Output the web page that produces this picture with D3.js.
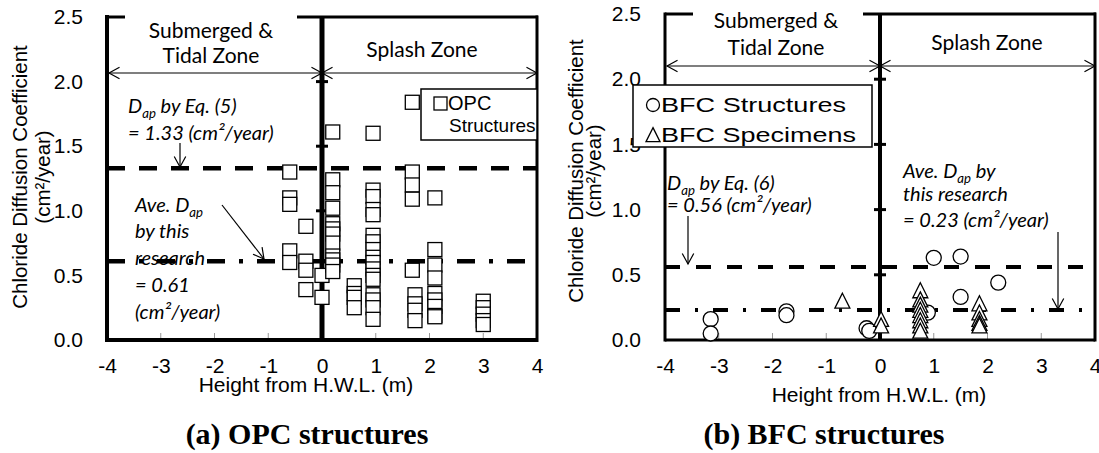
<!DOCTYPE html>
<html>
<head>
<meta charset="utf-8">
<script src="https://cdn.jsdelivr.net/npm/d3@7"></script>
<style>
  body { margin: 0; background: #fff; }
  svg { display: block; }
</style>
</head>
<body>
<div id="main"></div>
<script>
// axis ticks
const heightTicks = [-4, -3, -2, -1, 0, 1, 2, 3, 4]
const coefTicks = [0, 0.5, 1.0, 1.5, 2.0, 2.5]

// (a) OPC structures : [height from H.W.L. (m), D_ap (cm2/year)]
const opcStructures = [
  [-0.6, 1.30], [-0.6, 1.10], [-0.6, 1.05], [-0.6, 0.69], [-0.6, 0.60],
  [-0.3, 0.88], [-0.3, 0.61], [-0.3, 0.54], [-0.3, 0.39],
  [0.0, 0.50], [0.0, 0.33],
  [0.2, 1.61], [0.2, 1.24], [0.2, 1.14], [0.2, 1.02], [0.2, 0.90], [0.2, 0.86],
  [0.2, 0.82], [0.2, 0.75], [0.2, 0.65], [0.2, 0.62], [0.2, 0.58], [0.2, 0.53],
  [0.6, 0.42], [0.6, 0.36], [0.6, 0.33], [0.6, 0.25],
  [0.95, 1.60], [0.95, 1.16], [0.95, 1.11], [0.95, 1.01], [0.95, 0.97], [0.95, 0.81],
  [0.95, 0.76], [0.95, 0.70], [0.95, 0.64], [0.95, 0.60], [0.95, 0.55], [0.95, 0.50],
  [0.95, 0.47], [0.95, 0.35], [0.95, 0.31], [0.95, 0.25], [0.95, 0.16],
  [1.68, 1.84], [1.68, 1.30], [1.68, 1.20], [1.68, 1.09], [1.68, 0.54],
  [1.73, 0.35], [1.73, 0.28], [1.73, 0.23], [1.73, 0.15],
  [2.1, 1.10], [2.1, 0.70], [2.1, 0.58], [2.1, 0.48], [2.1, 0.36], [2.1, 0.31],
  [2.1, 0.26], [2.1, 0.19], [2.1, 0.18],
  [3.0, 0.30], [3.0, 0.25], [3.0, 0.20], [3.0, 0.15], [3.0, 0.12]
]

// (b) BFC structures and specimens
const bfcStructures = [
  [-3.15, 0.16], [-3.15, 0.05], [-1.74, 0.22], [-1.74, 0.19],
  [-0.25, 0.09], [-0.2, 0.07], [0.89, 0.21], [1.0, 0.63],
  [1.5, 0.64], [1.5, 0.33], [2.2, 0.44]
]
const bfcSpecimens = [
  [-0.7, 0.29], [0.02, 0.15], [0.02, 0.10],
  [0.75, 0.37], [0.75, 0.30], [0.75, 0.26], [0.75, 0.22], [0.75, 0.18],
  [0.75, 0.14], [0.75, 0.10], [0.75, 0.06],
  [1.85, 0.27], [1.85, 0.20], [1.85, 0.15], [1.85, 0.12], [1.85, 0.10]
]

// reference lines: D_ap by equation, average D_ap of this research
const dapEq = [1.33, 0.56]
const dapAve = [0.61, 0.23]

const sansFont = "'Liberation Sans', Arial, sans-serif"
const noteFont = "Lato, 'Open Sans', sans-serif"

let svg = d3.select('#main').append('svg')
  .attr('width', 1099)
  .attr('height', 453)

function arrowLine(g, x1, y1, x2, y2, headStart, headEnd, w) {
  g.append('line')
    .attr('x1', x1).attr('y1', y1).attr('x2', x2).attr('y2', y2)
    .attr('stroke', 'black').attr('stroke-width', w || 1.2)
  let head = (px, py, ang) => {
    let L = 12, a = 0.5
    let p = d3.path()
    p.moveTo(px + L * Math.cos(ang + a), py + L * Math.sin(ang + a))
    p.lineTo(px, py)
    p.lineTo(px + L * Math.cos(ang - a), py + L * Math.sin(ang - a))
    g.append('path').attr('d', p.toString())
      .attr('fill', 'none').attr('stroke', 'black').attr('stroke-width', w || 1.2)
  }
  let ang = Math.atan2(y2 - y1, x2 - x1)
  if (headEnd) head(x2, y2, ang + Math.PI)
  if (headStart) head(x1, y1, ang)
}

// text lines, "_ap" parts drawn as subscript
function note(g, x, y, parts, size, italic) {
  let t = g.append('text')
    .attr('x', x).attr('y', y)
    .attr('font-family', noteFont)
    .attr('font-size', size)
    .attr('font-style', italic ? 'italic' : 'normal')
  let shifted = false
  parts.forEach(p => {
    if (p.startsWith('_')) {
      t.append('tspan').attr('font-size', size * 0.66).attr('dy', 5).text(p.slice(1))
      shifted = true
    } else {
      let s = t.append('tspan').text(p)
      if (shifted) { s.attr('dy', -5); shifted = false }
    }
  })
  return t
}

function drawPanel(cfg) {
  let g = svg.append('g').attr('id', 'panel-' + cfg.id)
  let x = d3.scaleLinear().domain([-4, 4]).range([cfg.x0, cfg.x1])
  let y = d3.scaleLinear().domain([0, 2.5]).range([cfg.y1, cfg.y0])

  // x tick marks (light grey, inside)
  g.selectAll('.xtick')
    .data(heightTicks.slice(1, -1))
    .join('line')
    .attr('x1', d => x(d)).attr('x2', d => x(d))
    .attr('y1', cfg.y1).attr('y2', cfg.y1 - 7)
    .attr('stroke', '#999').attr('stroke-width', 1)

  // reference lines
  g.append('line')
    .attr('x1', x(-4)).attr('x2', x(4))
    .attr('y1', y(dapEq[cfg.k])).attr('y2', y(dapEq[cfg.k]))
    .attr('stroke', 'black').attr('stroke-width', cfg.refW)
    .attr('stroke-dasharray', cfg.dash)
  g.append('line')
    .attr('x1', x(-4)).attr('x2', x(4))
    .attr('y1', y(dapAve[cfg.k])).attr('y2', y(dapAve[cfg.k]))
    .attr('stroke', 'black').attr('stroke-width', cfg.refW)
    .attr('stroke-dasharray', cfg.dashDot)

  // H.W.L. line and its y ticks
  g.append('line')
    .attr('x1', x(0)).attr('x2', x(0))
    .attr('y1', cfg.y1).attr('y2', cfg.y0)
    .attr('stroke', 'black').attr('stroke-width', cfg.zeroW)
  g.selectAll('.ytick')
    .data(coefTicks.slice(1, -1))
    .join('line')
    .attr('x1', x(0) - 6).attr('x2', x(0) + 6)
    .attr('y1', d => y(d)).attr('y2', d => y(d))
    .attr('stroke', 'black').attr('stroke-width', 3)

  // frame
  g.append('line').attr('x1', cfg.x0).attr('x2', cfg.x0)
    .attr('y1', cfg.y1 + cfg.frameW / 2).attr('y2', cfg.y0 - cfg.frameW / 2)
    .attr('stroke', 'black').attr('stroke-width', cfg.frameW)
  g.append('line').attr('x1', cfg.x0).attr('x2', cfg.x1)
    .attr('y1', cfg.y1).attr('y2', cfg.y1)
    .attr('stroke', 'black').attr('stroke-width', cfg.frameW)
  g.append('line').attr('x1', cfg.x1).attr('x2', cfg.x1)
    .attr('y1', cfg.y1 + cfg.frameW / 2).attr('y2', cfg.y0 - 1.5)
    .attr('stroke', 'black').attr('stroke-width', 3)
  cfg.topSegs.forEach(s => {
    g.append('line').attr('x1', s[0]).attr('x2', s[1])
      .attr('y1', cfg.y0).attr('y2', cfg.y0)
      .attr('stroke', 'black').attr('stroke-width', 3)
  })

  // zone arrows
  arrowLine(g, x(-4) + 2, cfg.zoneY, x(0), cfg.zoneY, true, true)
  arrowLine(g, x(0), cfg.zoneY, x(4), cfg.zoneY, true, true)

  // axes labels
  let yAxis = g.append('g')
    .attr('transform', `translate(${cfg.x0},0)`)
    .call(d3.axisLeft(y).tickValues(coefTicks).tickFormat(d3.format('.1f')).tickSize(0).tickPadding(24))
  let xAxis = g.append('g')
    .attr('transform', `translate(0,${cfg.y1})`)
    .call(d3.axisBottom(x).tickValues(heightTicks).tickFormat(d => String(d)).tickSize(0).tickPadding(18))
  ;[yAxis, xAxis].forEach(a => {
    a.select('.domain').remove()
    a.selectAll('text').attr('font-family', sansFont).attr('font-size', 21).attr('fill', 'black')
  })

  g.append('text')
    .attr('x', cfg.xTitleX).attr('y', cfg.xTitleY)
    .attr('text-anchor', 'middle')
    .attr('font-family', sansFont).attr('font-size', 21)
    .text('Height from H.W.L. (m)')
  g.append('text')
    .attr('transform', `translate(${cfg.yTitleX[0]},${cfg.yTitleC}) rotate(-90)`)
    .attr('text-anchor', 'middle')
    .attr('font-family', sansFont).attr('font-size', 20.5)
    .text('Chloride Diffusion Coefficient')
  g.append('text')
    .attr('transform', `translate(${cfg.yTitleX[1]},${cfg.yTitleC}) rotate(-90)`)
    .attr('text-anchor', 'middle')
    .attr('font-family', sansFont).attr('font-size', 20.5)
    .text('(cm²/year)')

  // caption
  g.append('text')
    .attr('x', cfg.capX).attr('y', 444)
    .attr('text-anchor', 'middle')
    .attr('font-family', "'Liberation Serif', 'Times New Roman', serif")
    .attr('font-weight', 'bold').attr('font-size', 30)
    .text(cfg.caption)

  // zone labels
  g.append('text').attr('x', cfg.subX).attr('y', cfg.subY[0]).attr('text-anchor', 'middle')
    .attr('font-family', noteFont).attr('font-size', 21).text('Submerged &')
  g.append('text').attr('x', cfg.subX).attr('y', cfg.subY[1]).attr('text-anchor', 'middle')
    .attr('font-family', noteFont).attr('font-size', 21).text('Tidal Zone')
  g.append('text').attr('x', cfg.splashX).attr('y', cfg.splashY).attr('text-anchor', 'middle')
    .attr('font-family', noteFont).attr('font-size', 21).text('Splash Zone')

  return { g: g, x: x, y: y }
}

function squares(g, x, y, data, s) {
  g.selectAll(null).data(data).join('rect')
    .attr('x', d => x(d[0]) - s / 2).attr('y', d => y(d[1]) - s / 2)
    .attr('width', s).attr('height', s)
    .attr('fill', 'white').attr('stroke', 'black').attr('stroke-width', 1.3)
}
function circles(g, x, y, data, r) {
  g.selectAll(null).data(data).join('circle')
    .attr('cx', d => x(d[0])).attr('cy', d => y(d[1])).attr('r', r)
    .attr('fill', 'white').attr('stroke', 'black').attr('stroke-width', 1.3)
}
function triangles(g, x, y, data, s) {
  g.selectAll(null).data(data).join('path')
    .attr('d', d => {
      let cx = x(d[0]), cy = y(d[1])
      return `M${cx},${cy - s * 0.6}L${cx + s / 2},${cy + s * 0.4}L${cx - s / 2},${cy + s * 0.4}Z`
    })
    .attr('fill', 'white').attr('stroke', 'black').attr('stroke-width', 1.3)
}

// ---------- (a) OPC structures ----------
let a = drawPanel({
  id: 'a', k: 0, x0: 107, x1: 537, y0: 17, y1: 340,
  frameW: 4, zeroW: 5, refW: 4.5,
  dash: '18,14', dashDot: '18,14,4,14',
  topSegs: [[107, 125], [297, 538]],
  zoneY: 73, xTitleX: 306, xTitleY: 392, yTitleX: [27, 50], yTitleC: 177,
  capX: 307, caption: '(a) OPC structures',
  subX: 211, subY: [38, 63], splashX: 422, splashY: 57
})
squares(a.g, a.x, a.y, opcStructures, 14)

note(a.g, 128, 113, ['D', '_ap', ' by Eq. (5)'], 20, true)
note(a.g, 128, 140, ['= 1.33 (cm²/year)'], 20, true)
arrowLine(a.g, 180, 143, 180, 167, false, true)
note(a.g, 135, 212, ['Ave. D', '_ap'], 20, true)
note(a.g, 135, 238, ['by this'], 20, true)
note(a.g, 135, 265, ['research'], 20, true)
note(a.g, 135, 292, ['= 0.61'], 20, true)
note(a.g, 135, 319, ['(cm²/year)'], 20, true)
arrowLine(a.g, 222, 205, 264, 259, false, true)

// legend
a.g.append('rect').attr('x', 421).attr('y', 89).attr('width', 116).attr('height', 51)
  .attr('fill', 'white').attr('stroke', 'black').attr('stroke-width', 1.5)
a.g.append('rect').attr('x', 434).attr('y', 97).attr('width', 13).attr('height', 13)
  .attr('fill', 'white').attr('stroke', 'black').attr('stroke-width', 1.3)
a.g.append('text').attr('x', 448).attr('y', 110)
  .attr('font-family', sansFont).attr('font-size', 20).text('OPC')
a.g.append('text').attr('x', 449).attr('y', 132)
  .attr('font-family', sansFont).attr('font-size', 19).text('Structures')

// ---------- (b) BFC structures ----------
let b = drawPanel({
  id: 'b', k: 1, x0: 665, x1: 1095, y0: 14, y1: 340,
  frameW: 3, zeroW: 4, refW: 4,
  dash: '15,16', dashDot: '15,15,3,15',
  topSegs: [[665, 693], [863, 1096]],
  zoneY: 66, xTitleX: 879, xTitleY: 402, yTitleX: [583, 601], yTitleC: 171,
  capX: 824, caption: '(b) BFC structures',
  subX: 776, subY: [28, 55], splashX: 987, splashY: 50
})
circles(b.g, b.x, b.y, bfcStructures, 7.5)
triangles(b.g, b.x, b.y, bfcSpecimens, 15)

note(b.g, 667, 190, ['D', '_ap', ' by Eq. (6)'], 20, true)
note(b.g, 667, 212, ['= 0.56 (cm²/year)'], 20, true)
arrowLine(b.g, 688, 216, 688, 264, false, true)
note(b.g, 903, 178, ['Ave. D', '_ap', ' by'], 20, true)
note(b.g, 903, 201, ['this research'], 20, true)
note(b.g, 903, 227, ['= 0.23 (cm²/year)'], 20, true)
arrowLine(b.g, 1058, 232, 1058, 309, false, true)

// legend
b.g.append('rect').attr('x', 633).attr('y', 85).attr('width', 239).attr('height', 62)
  .attr('fill', 'white').attr('stroke', 'black').attr('stroke-width', 1.5)
circles(b.g, d3.scaleIdentity(), d3.scaleIdentity(), [[653, 105]], 6.5)
triangles(b.g, d3.scaleIdentity(), d3.scaleIdentity(), [[653, 136]], 14)
b.g.append('text').attr('x', 661).attr('y', 112)
  .attr('font-family', sansFont).attr('font-size', 21)
  .attr('textLength', 185).attr('lengthAdjust', 'spacingAndGlyphs').text('BFC Structures')
b.g.append('text').attr('x', 661).attr('y', 142)
  .attr('font-family', sansFont).attr('font-size', 21)
  .attr('textLength', 195).attr('lengthAdjust', 'spacingAndGlyphs').text('BFC Specimens')
</script>
</body>
</html>
